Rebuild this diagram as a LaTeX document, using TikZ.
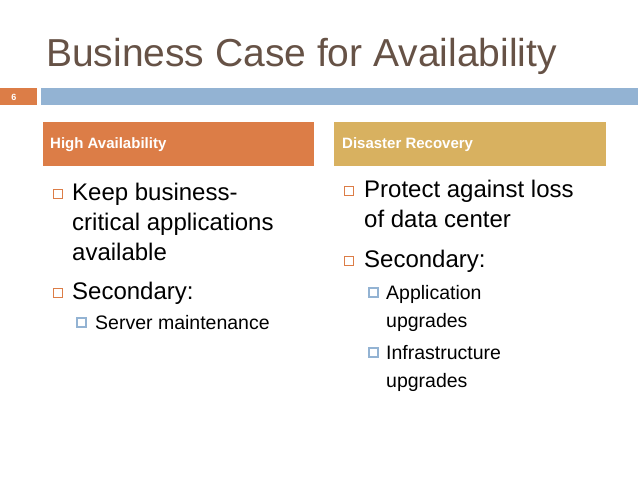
\documentclass[tikz,border=0pt]{standalone}
\usepackage{fontspec}
\setmainfont{Liberation Sans}
\definecolor{ttl}{HTML}{665246}
\definecolor{org}{HTML}{DC7D47}
\definecolor{gld}{HTML}{D8B160}
\definecolor{blu}{HTML}{93B3D3}
\begin{document}
\begin{tikzpicture}[x=1pt,y=-1pt,
  txt/.style={anchor=base west,inner sep=0pt,font=\fontsize{24}{28}\selectfont},
  stxt/.style={anchor=base west,inner sep=0pt,font=\fontsize{19.5}{23}\selectfont},
  hdr/.style={anchor=west,inner sep=0pt,text=white,font=\bfseries\fontsize{15}{18}\selectfont},
  bul/.style={draw=org,line width=0.8pt,fill=white,minimum size=9pt,inner sep=0pt},
  sbul/.style={draw=blu,line width=2pt,fill=white,minimum size=9pt,inner sep=0pt}]
\useasboundingbox (0,0) rectangle (638,478);
\node[anchor=base west,inner sep=0pt,text=ttl,font=\fontsize{39}{44}\selectfont] (title) at (46,67) {Business Case for Availability};
\fill[org] (0,88) rectangle (37,105);
\fill[blu] (41,88) rectangle (638,105);
\node[inner sep=0pt,text=white,font=\bfseries\fontsize{9}{10}\selectfont] (num) at (14,97) {6};
\fill[org] (43,122) rectangle (314,166);
\fill[gld] (334,122) rectangle (606,166);
\node[hdr] (h1) at (50,145) {High Availability};
\node[hdr] (h2) at (342,145) {Disaster Recovery};
% left
\node[bul] (b1) at (58,194) {};
\node[txt] (l1) at (72,201) {Keep business-};
\node[txt] (l2) at (72,231) {critical applications};
\node[txt] (l3) at (72,261) {available};
\node[bul] (b2) at (58,293) {};
\node[txt] (l4) at (72,300) {Secondary:};
\node[sbul] (s1) at (81,323) {};
\node[stxt] (l5) at (95,330) {Server maintenance};
% right
\node[bul] (b3) at (349,191) {};
\node[txt] (r1) at (364,198) {Protect against loss};
\node[txt] (r2) at (364,228) {of data center};
\node[bul] (b4) at (349,261) {};
\node[txt] (r3) at (364,268) {Secondary:};
\node[sbul] (s2) at (373,293) {};
\node[stxt] (r4) at (386,300) {Application};
\node[stxt] (r5) at (386,328) {upgrades};
\node[sbul] (s3) at (373,353) {};
\node[stxt] (r6) at (386,360) {Infrastructure};
\node[stxt] (r7) at (386,388) {upgrades};
\end{tikzpicture}
\end{document}
